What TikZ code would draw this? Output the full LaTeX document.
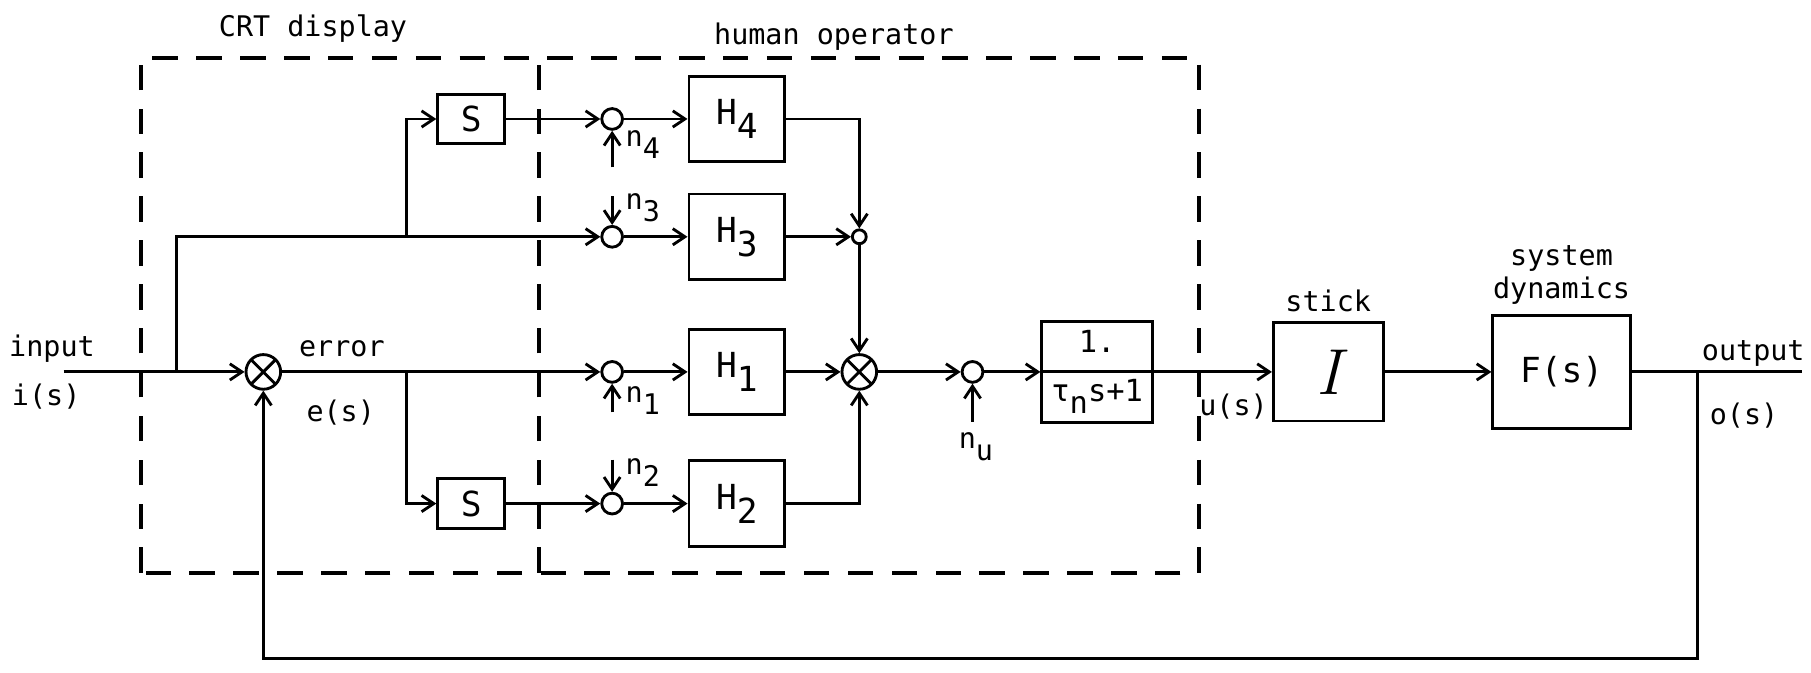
\documentclass[tikz,border=0pt]{standalone}
\usepackage{fontspec}
\setmonofont{DejaVu Sans Mono}
\usetikzlibrary{arrows.meta,positioning}
\tikzset{%
  sig/.style={draw, -{Straight Barb[length=3pt,width=4pt]}},
  frame/.style={line width=1pt, dash pattern=on 2.2mm off 1.6mm},
  blk/.style={draw, inner sep=0pt, font=\ttfamily\fontsize{8.5}{9}\selectfont},
  lbl/.style={inner sep=1pt, font=\ttfamily\fontsize{7}{8}\selectfont},
  dot/.style={draw, circle, inner sep=0pt, minimum size=0.18cm},
  sumx/.style={draw, circle, inner sep=0pt, minimum size=0.30cm,
               path picture={\draw (path picture bounding box.south west) -- (path picture bounding box.north east)
                                   (path picture bounding box.north west) -- (path picture bounding box.south east);}},
}
\newcommand{\lowsub}[1]{\raisebox{-0.75ex}{#1}}

\begin{document}
\begin{tikzpicture}[line width=0.7pt]
    \useasboundingbox (0,0) rectangle (15.68,5.82);

    %dashed frames
    \draw[frame] (1.22,0.86) rectangle (10.38,5.32);
    \draw[frame] (4.67,0.86) -- (4.67,5.32);
    \node[lbl] (crt) at (2.71,5.57) {CRT display};
    \node[lbl] (hum) at (7.22,5.50) {human operator};

    %blocks and summing points
    \node[sumx] (sumA) at (2.28,2.60) {};
    \node[blk, minimum width=0.58cm, minimum height=0.43cm] (s4) at (4.08,4.79) {S};
    \node[blk, minimum width=0.58cm, minimum height=0.43cm] (s2) at (4.08,1.46) {S};
    \node[dot] (c4) at (5.30,4.79) {};
    \node[dot] (c3) at (5.30,3.77) {};
    \node[dot] (c1) at (5.30,2.60) {};
    \node[dot] (c2) at (5.30,1.46) {};
    \node[blk, minimum width=0.83cm, minimum height=0.74cm] (h4) at (6.38,4.79) {H\lowsub{4}};
    \node[blk, minimum width=0.83cm, minimum height=0.74cm] (h3) at (6.38,3.77) {H\lowsub{3}};
    \node[blk, minimum width=0.83cm, minimum height=0.74cm] (h1) at (6.38,2.60) {H\lowsub{1}};
    \node[blk, minimum width=0.83cm, minimum height=0.74cm] (h2) at (6.38,1.46) {H\lowsub{2}};
    \node[dot, minimum size=0.12cm] (cj) at (7.44,3.77) {};
    \node[sumx] (sumB) at (7.44,2.60) {};
    \node[dot] (cu) at (8.42,2.60) {};
    \node[blk, minimum width=0.96cm, minimum height=0.87cm, align=center,
          font=\ttfamily\fontsize{7.5}{8}\selectfont] (lag) at (9.50,2.60) {1.\\[4pt]τ\lowsub{n}s+1};
    \draw (lag.west) -- (lag.east);
    \node[blk, minimum width=0.95cm, minimum height=0.85cm] (stick) at (11.50,2.60) {\normalfont\itshape\fontsize{16}{16}\selectfont I};
    \node[blk, minimum width=1.19cm, minimum height=0.98cm] (plant) at (13.52,2.60) {F(s)};

    \coordinate (in) at (0.55,2.60);
    \coordinate (b1) at (1.53,2.60);
    \coordinate (b2) at (3.52,3.77);
    \coordinate (b3) at (3.52,2.60);
    \coordinate (fb) at (14.70,2.60);
    \coordinate (fbb) at (14.70,0.12);
    \coordinate (out) at (15.60,2.60);
    \coordinate (n4) at (5.30,4.37);
    \coordinate (n3) at (5.30,4.12);
    \coordinate (n1) at (5.30,2.25);
    \coordinate (n2) at (5.30,1.84);
    \coordinate (nu) at (8.42,2.17);

    %signal paths
    \draw[sig] (in) -- (sumA);
    \draw[sig] (b1) |- (c3);
    \draw[sig] (b2) |- (s4);
    \draw[sig] (sumA) -- (c1);
    \draw[sig] (b3) |- (s2);
    \draw[sig] (s4) -- (c4);
    \draw[sig] (s2) -- (c2);
    \draw[sig] (c4) -- (h4);
    \draw[sig] (c3) -- (h3);
    \draw[sig] (c1) -- (h1);
    \draw[sig] (c2) -- (h2);
    \draw[sig] (h4) -| (cj);
    \draw[sig] (h3) -- (cj);
    \draw[sig] (cj) -- (sumB);
    \draw[sig] (h1) -- (sumB);
    \draw[sig] (h2) -| (sumB);
    \draw[sig] (sumB) -- (cu);
    \draw[sig] (cu) -- (lag);
    \draw[sig] (lag) -- (stick);
    \draw[sig] (stick) -- (plant);
    \draw (plant) -- (out);
    \draw[sig] (fb) -- (fbb) -| (sumA);

    %noise inputs
    \draw[sig] (n4) -- (c4);
    \draw[sig] (n3) -- (c3);
    \draw[sig] (n1) -- (c1);
    \draw[sig] (n2) -- (c2);
    \draw[sig] (nu) -- (cu);

    %labels
    \node[lbl, anchor=west] (ln4) at (5.37,4.57) {n\lowsub{4}};
    \node[lbl, anchor=west] (ln3) at (5.37,4.02) {n\lowsub{3}};
    \node[lbl, anchor=west] (ln1) at (5.37,2.35) {n\lowsub{1}};
    \node[lbl, anchor=west] (ln2) at (5.37,1.73) {n\lowsub{2}};
    \node[lbl] (lnu) at (8.45,1.95) {n\lowsub{u}};
    \node[lbl] (linput) at (0.45,2.80) {input};
    \node[lbl] (lis) at (0.40,2.39) {i(s)};
    \node[lbl] (lerr) at (2.96,2.80) {error};
    \node[lbl] (les) at (2.95,2.25) {e(s)};
    \node[lbl] (lus) at (10.68,2.30) {u(s)};
    \node[lbl, above=1pt of stick] (lstick) {stick};
    \node[lbl, above=1pt of plant, align=center] (lplant) {system\\dynamics};
    \node[lbl] (lout) at (15.18,2.76) {output};
    \node[lbl] (los) at (15.10,2.22) {o(s)};
\end{tikzpicture}
\end{document}
